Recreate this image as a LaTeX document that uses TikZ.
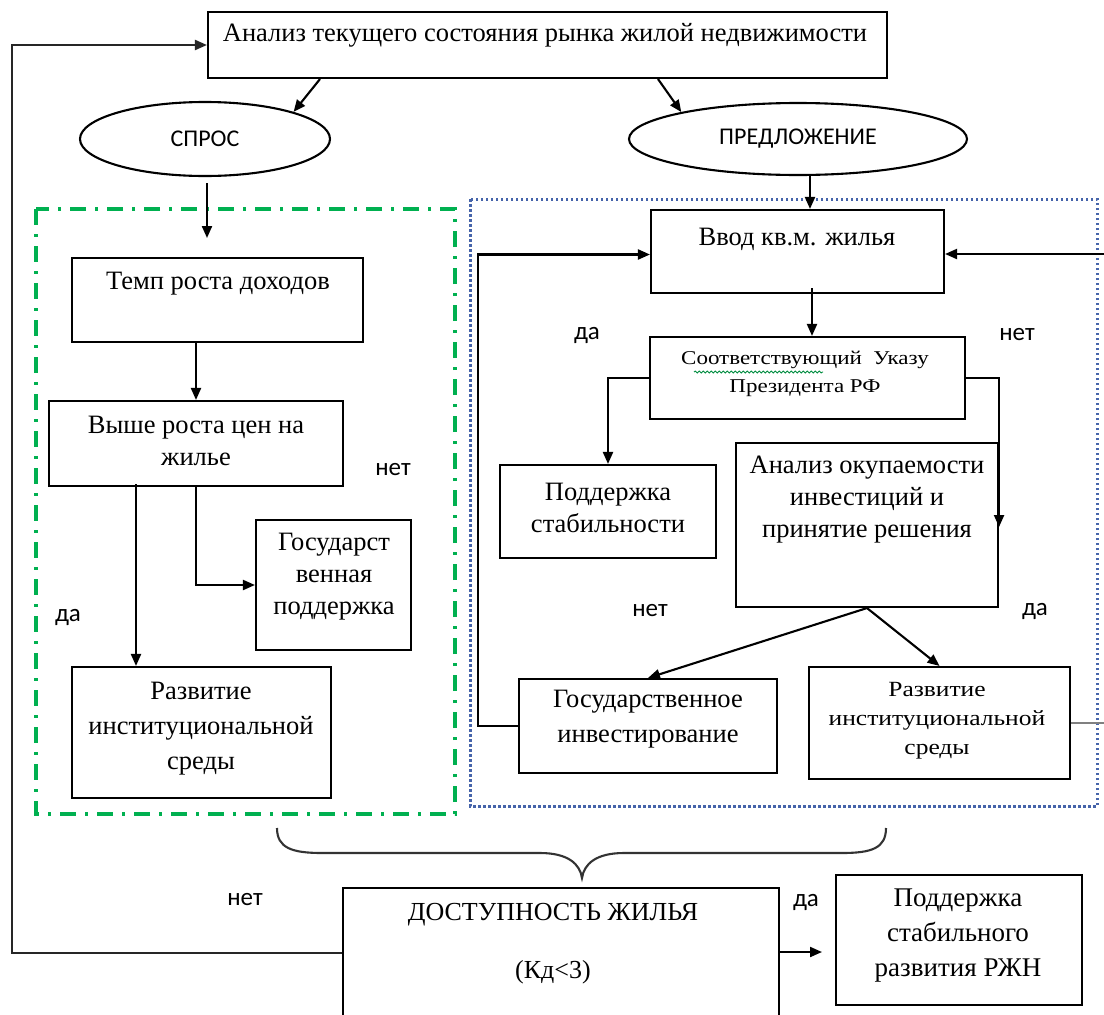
\documentclass[tikz,border=0pt]{standalone}
\usepackage{fontspec}
\setmainfont{Liberation Serif}
\newfontfamily\calfont{Carlito}
\usetikzlibrary{arrows.meta,shapes.geometric,decorations.pathmorphing}
\definecolor{dgreen}{RGB}{0,176,80}
\definecolor{dblue}{RGB}{70,100,170}
\newcommand{\cnd}[1]{\scalebox{1}[0.85]{#1}}
\tikzset{
  box/.style={draw, line width=2.1pt, inner sep=0pt},
  oval/.style={draw, ellipse, line width=2.1pt, inner sep=0pt, font=\calfont\fontsize{24}{28}\selectfont},
  txt/.style={align=center, inner sep=0pt, font=\fontsize{26.5}{35}\selectfont},
  txtb/.style={align=center, inner sep=0pt, font=\fontsize{26.5}{32}\selectfont},
  txts/.style={align=center, inner sep=0pt, font=\fontsize{23}{28}\selectfont},
  lab/.style={inner sep=0pt, font=\calfont\fontsize{25}{28}\selectfont},
  conn/.style={line width=2.1pt, -{Triangle[length=12pt,width=10pt]}},
  plain/.style={line width=2.1pt},
}
\begin{document}
\begin{tikzpicture}[x=1pt,y=-1pt]
\useasboundingbox[fill=white] (0,0) rectangle (1104,1015);
% group frames
\draw[dgreen, line width=3.2pt, dash pattern=on 16pt off 9pt on 3pt off 9pt] (36,209) rectangle (455,814);
\draw[dblue, line width=3pt, dash pattern=on 2.5pt off 2.5pt] (470,199) rectangle (1097,806);
% boxes
\node[box, minimum width=679pt, minimum height=66pt] (top) at (547.5,45) {};
\node[oval, minimum width=250pt, minimum height=74pt] (spros) at (205,139) {СПРОС};
\node[oval, minimum width=338pt, minimum height=72pt] (pred) at (798,139) {ПРЕДЛОЖЕНИЕ};
\node[box, minimum width=291pt, minimum height=84pt] (tempo) at (217.5,300) {};
\node[box, minimum width=294pt, minimum height=85pt] (vyshe) at (196,443.5) {};
\node[box, minimum width=155pt, minimum height=130pt] (gospod) at (333.5,585) {};
\node[box, minimum width=259pt, minimum height=131pt] (razvL) at (201.5,732.5) {};
\node[box, minimum width=293pt, minimum height=83pt] (vvod) at (797.5,251.5) {};
\node[box, minimum width=315pt, minimum height=82pt] (sootv) at (807.5,378) {};
\node[box, minimum width=216pt, minimum height=93pt] (podst) at (608,511.5) {};
\node[box, minimum width=262pt, minimum height=164pt] (anal) at (867,525) {};
\node[box, minimum width=258pt, minimum height=94pt] (gosinv) at (648,726) {};
\node[box, minimum width=261pt, minimum height=112pt] (razvR) at (939.5,723) {};
\node[box, minimum width=436pt, minimum height=130pt] (dost) at (561,953) {};
\node[box, minimum width=246pt, minimum height=130pt] (podrzn) at (959,940) {};
% texts
\node[txt] (topT) at (545,35) {Анализ текущего состояния рынка жилой недвижимости};
\node[txt] (tempoT) at (218,284) {Темп роста доходов};
\node[txtb] (vysheT) at (196,441) {Выше роста цен на\\жилье};
\node[txtb] (gospodT) at (334,577) {Государст\\венная\\поддержка};
\node[txt] (razvLT) at (201,729) {Развитие\\институциональной\\среды};
\node[txt] (vvodT) at (797,239) {Ввод кв.м. жилья};
\node[txts] (sootvT) at (805,374) {\cnd{Соответствующий\ \ Указу}\\\cnd{Президента РФ}};
\node[txtb] (podstT) at (608,508) {Поддержка\\стабильности};
\node[txtb] (analT) at (867,500) {Анализ окупаемости\\инвестиций и\\принятие решения};
\node[txt] (gosinvT) at (648,719) {Государственное\\инвестирование};
\node[txts, font=\fontsize{25.5}{29}\selectfont] (razvRT) at (937,721) {\cnd{Развитие}\\\cnd{институциональной}\\\cnd{среды}};
\node[txt, font=\fontsize{26}{58}\selectfont] (dostT) at (553,944) {ДОСТУПНОСТЬ ЖИЛЬЯ\\(Кд<3)};
\node[txtb, font=\fontsize{27}{35}\selectfont] (podrznT) at (958,936) {Поддержка\\стабильного\\развития РЖН};
% spell-check underline
\draw[dgreen!80!black, line width=0.9pt, decorate, decoration={snake, amplitude=0.9pt, segment length=4pt}] (694,372) -- (823,372);
% labels
\node[lab] (l1) at (587,335) {да};
\node[lab] (l2) at (1017,335) {нет};
\node[lab] (l3) at (650,611) {нет};
\node[lab] (l4) at (1035,611) {да};
\node[lab] (l5) at (393,470) {нет};
\node[lab] (l6) at (68,617) {да};
\node[lab] (l7) at (245,900) {нет};
\node[lab] (l8) at (806,902) {да};
% helper coordinates
\coordinate (x1) at (320,0);
\coordinate (x2) at (658,0);
\coordinate (xb) at (810,0);
\coordinate (xc) at (812,0);
\coordinate (xd) at (136,0);
\coordinate (xl) at (12,0);
\coordinate (xr) at (478,0);
\coordinate (sa) at (207,183);
\coordinate (sb) at (207,238);
\coordinate (rin) at (1104,254);
\coordinate (rout) at (1104,723);
\coordinate (de) at (822,952);
% connectors
\draw[conn] (top.south -| x1) -- (spros.17);
\draw[conn] (top.south -| x2) -- (pred.167);
\draw[conn] (sa) -- (sb);
\draw[conn] (pred.south -| xb) -- (vvod.north -| xb);
\draw[conn] ([yshift=6pt]vvod.south -| xc) -- (sootv.north -| xc);
\draw[conn] (gosinv.west) -- (gosinv.west -| xr) |- ([yshift=-3pt]vvod.west);
\draw[conn] (rin) -- (vvod.east |- rin);
\draw[plain, gray, line width=2.6pt] (razvR.east |- rout) -- (rout);
\draw[conn] (sootv.west) -| (podst.north);
\draw[conn] (sootv.east) -| ([yshift=-2pt]anal.east);
\draw[conn] (anal.south) -- (gosinv.north);
\draw[conn] (anal.south) -- (razvR.north);
\draw[conn] (vyshe.north |- tempo.south) -- (vyshe.north);
\draw[conn] (vyshe.south) |- (gospod.west);
\draw[conn] ([yshift=3pt]vyshe.south -| xd) -- (razvL.north -| xd);
\draw[conn, black!85] (dost.west) -- (dost.west -| xl) -- (top.west -| xl) -- (top.west);
\draw[conn] (dost.east |- de) -- (de);
% brace
\draw[line width=2.1pt, black!80] (277,828) .. controls (277,848) and (292,853) .. (322,853) -- (540,853) .. controls (568,853) and (580,864) .. (582,878) .. controls (584,864) and (596,853) .. (624,853) -- (842,853) .. controls (872,853) and (886,848) .. (886,828);
\end{tikzpicture}
\end{document}
